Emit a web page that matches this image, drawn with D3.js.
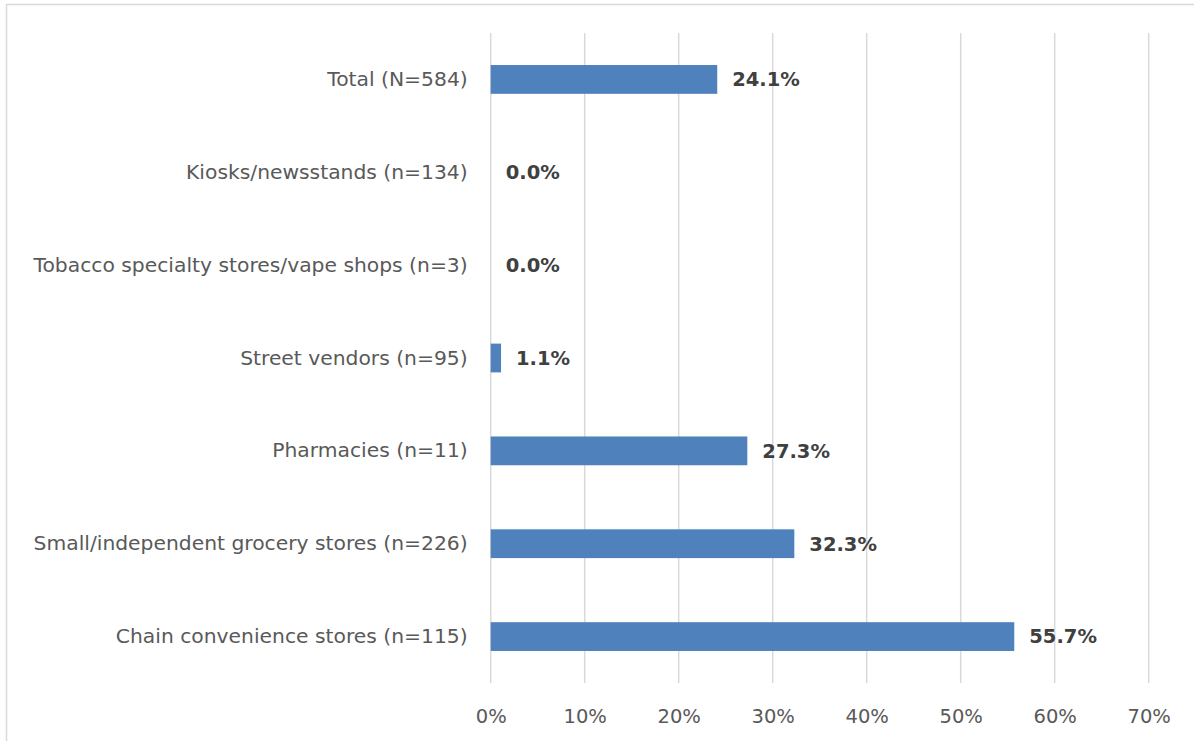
<!DOCTYPE html>
<html><head><meta charset="utf-8">
<script src="https://cdn.jsdelivr.net/npm/d3@7"></script>
<style>
html,body{margin:0;padding:0;background:#fff;}
svg{display:block;}
</style></head>
<body>
<script>
const categories = [
  "Total (N=584)",
  "Kiosks/newsstands (n=134)",
  "Tobacco specialty stores/vape shops (n=3)",
  "Street vendors (n=95)",
  "Pharmacies (n=11)",
  "Small/independent grocery stores (n=226)",
  "Chain convenience stores (n=115)"
];
const values = [24.1, 0.0, 0.0, 1.1, 27.3, 32.3, 55.7];
const tickValues = [0, 10, 20, 30, 40, 50, 60, 70];

(function () {
const W = 1194, H = 741;
const svg = d3.select("body").append("svg").attr("width", W).attr("height", H);

// chart border
svg.append("rect").attr("x", 6.5).attr("y", 4.5).attr("width", W + 10).attr("height", H + 10)
  .attr("fill", "#fff").attr("stroke", "#d9d9d9").attr("stroke-width", 1.5);

const pLeft = 490.7, pRight = 1148.7, pTop = 33, pBottom = 683;
const x = d3.scaleLinear().domain([0, 70]).range([pLeft, pRight]);
const y = d3.scaleBand().domain(categories).range([pTop, pBottom]).paddingInner(0.69).paddingOuter(0.345);

// gridlines
svg.append("g").selectAll("line").data(tickValues).join("line")
  .attr("x1", d => x(d)).attr("x2", d => x(d))
  .attr("y1", pTop).attr("y2", pBottom)
  .attr("stroke", "#d9d9d9").attr("stroke-width", 1.5);

// x axis labels
const xAxis = d3.axisBottom(x).tickValues(tickValues).tickFormat(d => d + "%").tickSize(0).tickPadding(0);
const gx = svg.append("g").attr("transform", `translate(0,${pBottom + 26})`).call(xAxis);
gx.select(".domain").remove();
gx.selectAll("text").attr("font-family", "DejaVu Sans, sans-serif").attr("font-size", 19.5)
  .attr("fill", "#595959").attr("dy", "0.71em");

// y axis labels
const yAxis = d3.axisLeft(y).tickSize(0).tickPadding(23);
const gy = svg.append("g").attr("transform", `translate(${pLeft},0)`).call(yAxis);
gy.select(".domain").remove();
gy.selectAll("text").attr("font-family", "DejaVu Sans, sans-serif").attr("font-size", 20.3)
  .attr("fill", "#595959");

// bars
svg.append("g").selectAll("rect").data(values).join("rect")
  .attr("x", x(0)).attr("y", (d, i) => y(categories[i]))
  .attr("width", d => x(d) - x(0)).attr("height", y.bandwidth())
  .attr("fill", "#4f81bd");

// value labels
svg.append("g").selectAll("text").data(values).join("text")
  .attr("x", d => x(d) + 15).attr("y", (d, i) => y(categories[i]) + y.bandwidth() / 2)
  .attr("dy", "0.35em")
  .attr("font-family", "DejaVu Sans, sans-serif").attr("font-weight", "bold").attr("font-size", 19.5)
  .attr("fill", "#404040")
  .text(d => d.toFixed(1) + "%");
})();
</script>
</body></html>
